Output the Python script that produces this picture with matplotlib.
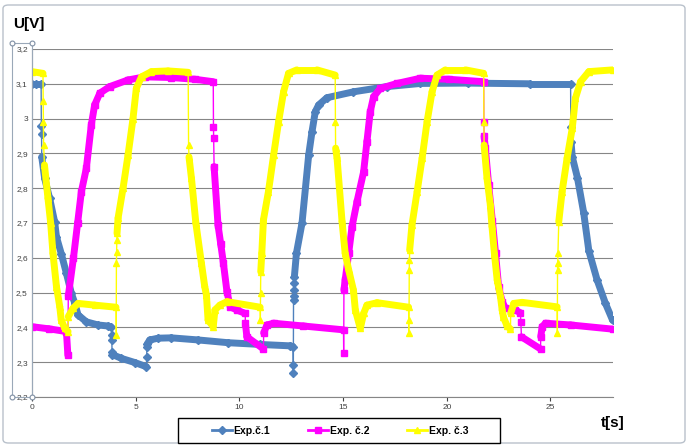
import matplotlib
matplotlib.use("Agg")
import matplotlib.pyplot as plt
import numpy as np
from matplotlib.collections import LineCollection
from matplotlib.lines import Line2D
from matplotlib.patches import FancyBboxPatch, Rectangle

plt.rcParams['font.family'] = ['Liberation Sans', 'DejaVu Sans']

# Exp.č.1 (blue)
t1 = [0.0, 0.2, 0.44, 0.45, 0.46, 0.47, 0.61, 0.85, 1.09, 1.18, 1.42, 1.66, 1.90, 2.06,
      2.22, 2.62, 3.18, 3.67, 3.83, 3.84, 3.85, 3.86, 3.88, 4.31, 4.96, 5.52, 5.53, 5.54,
      5.55, 5.68, 6.08, 6.72, 8.0, 9.46, 11.0, 12.45, 12.58, 12.59, 12.60, 12.61, 12.62,
      12.63, 12.64, 12.65, 12.75, 13.02, 13.34, 13.5, 13.66, 13.82, 14.22, 15.5, 17.12,
      18.73, 21.0, 24.0, 25.97, 25.98, 25.99, 26.05, 26.3, 26.6, 26.85, 27.25, 27.65, 28.0]
u1 = [3.10, 3.10, 3.10, 2.98, 2.955, 2.89, 2.828, 2.771, 2.704, 2.66, 2.61, 2.555, 2.498, 2.47,
      2.436, 2.416, 2.407, 2.404, 2.400, 2.378, 2.363, 2.33, 2.322, 2.311, 2.299, 2.287, 2.316, 2.345,
      2.352, 2.364, 2.369, 2.370, 2.364, 2.356, 2.351, 2.347, 2.345, 2.292, 2.268, 2.479, 2.49,
      2.508, 2.528, 2.545, 2.613, 2.70, 2.895, 2.962, 3.02, 3.039, 3.06, 3.077, 3.092,
      3.101, 3.102, 3.10, 3.10, 2.977, 2.934, 2.89, 2.83, 2.73, 2.62, 2.536, 2.469, 2.42]

# Exp. č.2 (magenta)
t2 = [0.0, 0.8, 1.66, 1.73, 1.75, 2.0, 2.2, 2.38, 2.62, 2.86, 3.02, 3.27, 3.75, 4.63, 5.44,
      6.72, 7.85, 8.74, 8.75, 8.76, 8.78, 8.97, 9.1, 9.23, 9.4, 9.56, 9.88, 10.28, 10.29,
      10.36, 11.16, 11.17, 11.33, 11.65, 13.09, 15.02, 15.03, 15.04, 15.1, 15.27, 15.43,
      15.67, 15.99, 16.15, 16.31, 16.47, 16.8, 17.6, 18.73, 20.1, 21.78, 21.79, 21.80,
      21.86, 22.02, 22.2, 22.35, 22.5, 22.67, 22.83, 23.3, 23.55, 23.57, 23.6, 24.52,
      24.53, 24.6, 24.76, 25.97, 28.0]
u2 = [2.402, 2.396, 2.388, 2.32, 2.49, 2.60, 2.70, 2.79, 2.857, 2.982, 3.039, 3.073, 3.092, 3.111, 3.12,
      3.118, 3.113, 3.106, 2.977, 2.943, 2.862, 2.694, 2.64, 2.584, 2.503, 2.459, 2.45, 2.44, 2.412,
      2.373, 2.338, 2.384, 2.407, 2.412, 2.404, 2.393, 2.326, 2.507, 2.536, 2.613, 2.689,
      2.761, 2.847, 2.934, 3.02, 3.063, 3.087, 3.101, 3.116, 3.113, 3.106, 2.99, 2.95,
      2.915, 2.809, 2.705, 2.613, 2.517, 2.474, 2.455, 2.45, 2.442, 2.416, 2.373, 2.338,
      2.373, 2.402, 2.412, 2.407, 2.395]

# Exp. č.3 (yellow)
t3 = [0.0, 0.53, 0.54, 0.55, 0.56, 0.6, 0.77, 0.9, 1.01, 1.18, 1.34, 1.41, 1.58, 1.74, 1.75,
      1.98, 2.22, 3.02, 4.05, 4.06, 4.07, 4.08, 4.09, 4.10, 4.15, 4.39, 4.63, 4.87, 5.03,
      5.28, 5.76, 6.56, 7.53, 7.55, 7.57, 7.69, 7.9, 8.17, 8.33, 8.41, 8.49, 8.74, 8.82,
      9.06, 9.4, 11.0, 11.01, 11.02, 11.03, 11.08, 11.16, 11.4, 11.65, 11.89, 12.13, 12.37,
      12.77, 13.74, 14.62, 14.63, 14.64, 14.71, 14.95, 15.1, 15.27, 15.5, 15.59, 15.83,
      15.99, 16.15, 16.64, 18.16, 18.17, 18.18, 18.19, 18.2, 18.21, 18.32, 18.57, 18.81, 19.05,
      19.29, 19.53, 19.93, 20.9, 21.78, 21.79, 21.8, 21.94, 22.1, 22.18, 22.3, 22.43, 22.59,
      22.67, 22.73, 22.9, 23.07, 23.08, 23.23, 23.63, 25.32, 25.33, 25.34, 25.35, 25.36,
      25.4, 25.56, 25.8, 26.05, 26.2, 26.45, 26.85, 28.0]
u3 = [3.135, 3.13, 3.05, 2.99, 2.924, 2.867, 2.771, 2.70, 2.613, 2.517, 2.459, 2.421, 2.397, 2.388, 2.431,
      2.455, 2.469, 2.464, 2.458, 2.378, 2.585, 2.617, 2.65, 2.67, 2.714, 2.80, 2.895, 3.0, 3.087,
      3.12, 3.135, 3.137, 3.133, 2.924, 2.89, 2.828, 2.70, 2.584, 2.517, 2.493, 2.421, 2.402, 2.45,
      2.464, 2.474, 2.458, 2.421, 2.50, 2.56, 2.613, 2.709, 2.79, 2.895, 2.991, 3.077, 3.13,
      3.14, 3.14, 3.125, 2.99, 2.915, 2.886, 2.704, 2.613, 2.565, 2.507, 2.45, 2.397,
      2.44, 2.464, 2.471, 2.458, 2.384, 2.421, 2.565, 2.594, 2.622, 2.694, 2.79, 2.886, 2.991,
      3.077, 3.125, 3.14, 3.14, 3.13, 2.99, 2.924, 2.828, 2.752, 2.69, 2.61, 2.536, 2.488,
      2.45, 2.43, 2.405, 2.395, 2.44, 2.469, 2.472, 2.459, 2.384, 2.565, 2.584, 2.613,
      2.704, 2.79, 2.886, 2.972, 3.058, 3.106, 3.135, 3.14]

series_names = ["Exp.č.1", "Exp. č.2", "Exp. č.3"]
series_colors = ["#4F81BD", "#FF00FF", "#FFFF00"]
series_markers = ["D", "s", "^"]

y_ticks = [2.2, 2.3, 2.4, 2.5, 2.6, 2.7, 2.8, 2.9, 3.0, 3.1, 3.2]
y_labels = ["2,2", "2,3", "2,4", "2,5", "2,6", "2,7", "2,8", "2,9", "3", "3,1", "3,2"]
x_ticks = [0, 5, 10, 15, 20, 25]

W, H = 689, 446


def draw_series(ax, t, u, color, marker, z):
    t = np.asarray(t, dtype=float)
    u = np.asarray(u, dtype=float)
    pts = np.column_stack([t, u])
    segs = np.stack([pts[:-1], pts[1:]], axis=1)
    # sampled points are dense where the signal is slow -> thick band;
    # fast jumps between two samples show up as a thin connecting line
    jump = np.diff(t) < 0.05
    widths = np.where(jump, 1.0, 5.0)
    lc = LineCollection(segs, colors=color, linewidths=widths,
                        capstyle="round", joinstyle="round", zorder=z)
    ax.add_collection(lc)
    ax.plot(t, u, linestyle="none", marker=marker, ms=4.5, color=color,
            markeredgecolor=color, zorder=z)


fig = plt.figure(figsize=(W / 100, H / 100), dpi=100)
fig.patch.set_facecolor("white")

# chart frame
fig.patches.append(FancyBboxPatch((3 / W, 3 / H), 682 / W, 438 / H,
                                  boxstyle="round,pad=0,rounding_size=0.008",
                                  transform=fig.transFigure, facecolor="none",
                                  edgecolor="#b9c1cb", linewidth=1.0))

ax = fig.add_axes([32 / W, 1 - 397 / H, (612.7 - 32) / W, (397 - 49) / H])

for i, (t, u) in enumerate([(t1, u1), (t2, u2), (t3, u3)]):
    draw_series(ax, t, u, series_colors[i], series_markers[i], 3 + i)

ax.set_xlim(0, 28)
ax.set_ylim(2.2, 3.2)
ax.set_yticks(y_ticks)
ax.set_yticklabels(y_labels)
ax.set_xticks(x_ticks)
ax.tick_params(labelsize=6, colors="#404040", length=3, width=0.8, pad=2)
ax.tick_params(axis="y", length=0, pad=3)
for side in ["top", "right"]:
    ax.spines[side].set_visible(False)
for side in ["left", "bottom"]:
    ax.spines[side].set_color("#868686")
    ax.spines[side].set_linewidth(0.8)
ax.grid(True, axis="y", color="#868686", linewidth=0.8)
ax.set_axisbelow(True)

# y-axis selection box (as in the screenshot)
fig.patches.append(Rectangle((12 / W, 1 - 397 / H), 20 / W, 354 / H,
                             transform=fig.transFigure, facecolor="none",
                             edgecolor="#9aa8b8", linewidth=0.8))
for px, py in [(12, 43), (32, 43), (12, 397), (32, 397)]:
    fig.lines.append(Line2D([px / W], [1 - py / H], transform=fig.transFigure,
                            marker="o", ms=3.5, mfc="white", mec="#7f8fa4", mew=0.8))

fig.text(13 / W, 1 - 28 / H, "U[V]", fontsize=11, fontweight="bold")
fig.text(601 / W, 1 - 427 / H, "t[s]", fontsize=11, fontweight="bold")

# legend
fig.patches.append(Rectangle((178 / W, 1 - 443 / H), 322 / W, 25 / H,
                             transform=fig.transFigure, facecolor="white",
                             edgecolor="black", linewidth=1.0))
handles = [Line2D([0], [0], color=c, lw=2, marker=m, ms=4.5)
           for c, m in zip(series_colors, series_markers)]
leg = fig.legend(handles, series_names, loc="center", ncol=3,
                 bbox_to_anchor=(340 / W, 1 - 430.5 / H), frameon=False,
                 handlelength=1.9, handletextpad=0.2, columnspacing=3.6,
                 prop={"size": 7.5, "weight": "bold"})

fig.savefig("out.png", dpi=100)
